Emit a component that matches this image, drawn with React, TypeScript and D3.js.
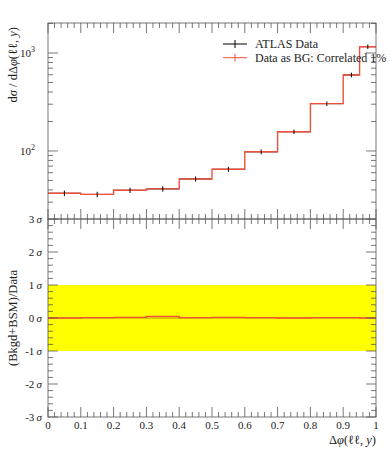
import * as d3 from "d3";

// bin edges and measured values (Δφ(ℓℓ,y))
const binEdges = [0, 0.1, 0.2, 0.3, 0.4, 0.5, 0.6, 0.7, 0.8, 0.9, 0.95, 1.0];
const dataValues = [37, 36, 39.7, 41, 51.8, 65, 98, 157, 304, 597, 1160];
const dataErrors = [2.4, 2.3, 2.5, 2.6, 3.1, 3.8, 5.5, 8.5, 16, 33, 62];
const bgValues = [37, 36, 39.7, 41, 51.8, 65, 98, 157, 304, 597, 1160];
const ratioValues = [0, 0.01, 0.02, 0.05, 0.01, 0.02, 0.01, 0, 0.01, 0.01, 0];

const xTickLabels = ["0", "0.1", "0.2", "0.3", "0.4", "0.5", "0.6", "0.7", "0.8", "0.9", "1"];
const sigmaTicks = [3, 2, 1, 0, -1, -2, -3];
const legendItems = ["ATLAS Data", "Data as BG: Correlated 1%"];

const W = 389, H = 450;
const left = 48, right = 376;
const top = 23, mid = 219, bottom = 417;
const FONT = "'Liberation Serif', 'DejaVu Serif', serif";
const RED = "#f0503a";

export default function App() {
  const x = d3.scaleLinear().domain([0, 1]).range([left, right]);
  const y = d3.scaleLog().domain([20.2, 2024]).range([mid, top]);
  const yr = d3.scaleLinear().domain([-3, 3]).range([bottom, mid]);

  const xMajor = d3.range(0, 11).map((i) => i / 10);
  const xMinor = d3.range(0, 51).map((i) => i / 50).filter((v, i) => i % 5 !== 0);
  const logMajor = [100, 1000];
  const logMinor = [30, 40, 50, 60, 70, 80, 90, 200, 300, 400, 500, 600, 700, 800, 900, 2000];
  const sigMinor = d3.range(-15, 16).filter((i) => i % 5 !== 0).map((i) => i / 5);

  const stepPath = (vals: number[], ys: (v: number) => number) => {
    let d = "";
    vals.forEach((v, i) => {
      const x0 = x(binEdges[i]), x1 = x(binEdges[i + 1]), yy = ys(v);
      d += (i === 0 ? `M${x0},${yy}` : `V${yy}`) + `H${x1}`;
    });
    return d;
  };

  const xTicks = (y0: number, dir: number) => (
    <g stroke="#555" strokeWidth={0.8}>
      {xMajor.map((v) => <line key={"M" + v} x1={x(v)} x2={x(v)} y1={y0} y2={y0 + dir * 10} />)}
      {xMinor.map((v) => <line key={"m" + v} x1={x(v)} x2={x(v)} y1={y0} y2={y0 + dir * 5} />)}
    </g>
  );

  const yTicks = (vals: number[], sc: (v: number) => number, len: number) => (
    <g stroke="#555" strokeWidth={0.8}>
      {vals.map((v) => (
        <g key={v}>
          <line x1={left} x2={left + len} y1={sc(v)} y2={sc(v)} />
          <line x1={right} x2={right - len} y1={sc(v)} y2={sc(v)} />
        </g>
      ))}
    </g>
  );

  return (
    <svg width={W} height={H} style={{ position: "absolute", left: 0, top: 0, fontFamily: FONT }}>
      <rect width={W} height={H} fill="#fff" />

      {/* ratio panel band */}
      <rect x={left} y={yr(1)} width={right - left} height={yr(-1) - yr(1)} fill="#ffff00" />
      <line x1={left} x2={right} y1={yr(0)} y2={yr(0)} stroke="#c8a000" strokeWidth={2} opacity={0.6} />
      <path d={stepPath(ratioValues, yr)} fill="none" stroke={RED} strokeWidth={1.3} />

      {/* data: horizontal bars + error bars */}
      <g stroke="#000" strokeWidth={1}>
        {dataValues.map((v, i) => (
          <line key={i} x1={x(binEdges[i])} x2={x(binEdges[i + 1])} y1={y(v)} y2={y(v)} />
        ))}
      </g>
      <path d={stepPath(bgValues, y)} fill="none" stroke={RED} strokeWidth={1.4} />
      <g stroke="#000" strokeWidth={1}>
        {dataValues.map((v, i) => {
          const xc = x((binEdges[i] + binEdges[i + 1]) / 2);
          return <line key={i} x1={xc} x2={xc} y1={y(v - dataErrors[i])} y2={y(v + dataErrors[i])} />;
        })}
      </g>

      {/* frames */}
      <rect x={left} y={top} width={right - left} height={mid - top} fill="none" stroke="#555" strokeWidth={0.8} />
      <rect x={left} y={mid} width={right - left} height={bottom - mid} fill="none" stroke="#555" strokeWidth={0.8} />

      {xTicks(top, 1)}
      {xTicks(mid, -1)}
      {xTicks(mid, 1)}
      {xTicks(bottom, -1)}
      {yTicks(logMajor, y, 10)}
      {yTicks(logMinor, y, 5)}
      {yTicks(sigmaTicks, yr, 10)}
      {yTicks(sigMinor, yr, 5)}

      {/* tick labels */}
      <g fontSize={11} fill="#222">
        {logMajor.map((v) => (
          <text key={v} x={35} y={y(v) + 4} textAnchor="end">
            10<tspan fontSize={8} dy={-5}>{Math.log10(v)}</tspan>
          </text>
        ))}
        {sigmaTicks.map((v) => (
          <text key={v} x={42} y={yr(v) + 4} textAnchor="end">
            {v}{"\u2009"}<tspan fontStyle="italic">σ</tspan>
          </text>
        ))}
        {xMajor.map((v, i) => (
          <text key={v} x={x(v)} y={429} textAnchor="middle">{xTickLabels[i]}</text>
        ))}
      </g>

      {/* axis titles */}
      <text x={right} y={444} textAnchor="end" fontSize={12.5} fill="#222">
        Δ<tspan fontStyle="italic">φ</tspan>(ℓℓ, <tspan fontStyle="italic">y</tspan>)
      </text>
      <text transform="rotate(-90)" x={-top - 4} y={17} textAnchor="end" fontSize={12.5} fill="#222">
        d<tspan fontStyle="italic">σ</tspan> / dΔ<tspan fontStyle="italic">φ</tspan>(ℓℓ, <tspan fontStyle="italic">y</tspan>)
      </text>
      <text transform="rotate(-90)" x={-(mid + bottom) / 2} y={17} textAnchor="middle" fontSize={12.5} fill="#222">
        (Bkgd+BSM)/Data
      </text>

      {/* legend */}
      {legendItems.map((label, i) => {
        const ly = 44 + i * 13.7;
        const col = i === 0 ? "#000" : RED;
        return (
          <g key={label}>
            <line x1={223} x2={247} y1={ly} y2={ly} stroke={col} strokeWidth={1} />
            <line x1={235} x2={235} y1={ly - 4} y2={ly + 4} stroke={col} strokeWidth={1} />
            <text x={255} y={ly + 4} fontSize={12} fill="#222">{label}</text>
          </g>
        );
      })}
    </svg>
  );
}
